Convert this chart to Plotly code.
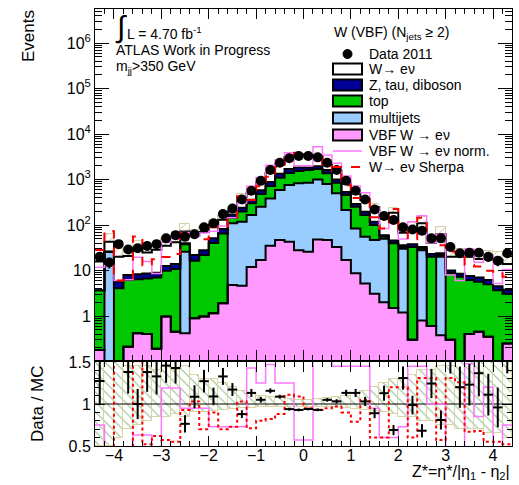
import numpy as np
import plotly.graph_objects as go

# ---------------- data ----------------
bin_centers = [-4.3, -4.1, -3.9, -3.7, -3.5, -3.3, -3.1, -2.9, -2.7, -2.5, -2.3,
               -2.1, -1.9, -1.7, -1.5, -1.3, -1.1, -0.9, -0.7, -0.5, -0.3, -0.1,
               0.1, 0.3, 0.5, 0.7, 0.9, 1.1, 1.3, 1.5, 1.7, 1.9, 2.1,
               2.3, 2.5, 2.7, 2.9, 3.1, 3.3, 3.5, 3.7, 3.9, 4.1, 4.3]
bin_width = 0.2

data = [20, 15, 38, 29, 31, 34.5, 38, 51, 60, 55, 63, 89, 109, 174, 232, 366, 566, 937, 1620, 2350, 2930, 3300,
        3300, 3080, 2350, 1620, 940, 566, 366, 220, 158, 129, 89, 80, 75, 51, 51, 33, 24, 24.6, 24.6, 20, 16.5, 24]

# total of the MC stack (top of the white W -> e nu histogram)
mc_total = [15.7, 43, 20, 21, 31, 25, 28.6, 35, 42, 72, 58, 70, 100, 131, 198, 416, 500, 892, 1400, 2160, 3120, 3550,
            3510, 3310, 2240, 1570, 830, 500, 355, 247, 140, 187, 68, 81, 110, 41, 63, 20, 20, 20, 18, 18, 17.2, 14]

vbf = [0.18, 0, 0, 0.21, 0.42, 0.40, 0.19, 0.97, 0.45, 0.42, 0.89, 0.97, 1.15, 1.9, 4.8, 4.6, 12, 17, 35, 47, 43, 28,
       26, 48, 47, 33, 17, 8.7, 5.2, 3.1, 2.0, 1.5, 1.2, 0.3, 0.8, 0.6, 0.38, 0.3, 0, 0.4, 0.45, 0.35, 0, 0.25]
multijets = [0, 26, 0, 0, 0, 0, 0, 0, 0, 25.6, 0, 0, 0, 0, 105, 113, 154, 235, 350, 543, 712, 797,
             824, 952, 753, 467, 197, 75, 50, 44, 48, 0, 28.8, 0, 27.2, 0, 19.6, 0, 0, 0, 0, 0, 0, 0]
top = [3.5, 0, 4.1, 6.0, 6.0, 6.3, 6.8, 8.9, 10.3, 12, 15.6, 21, 38.9, 63, 35, 82, 134, 228, 335, 510, 645, 725,
       770, 700, 570, 350, 243, 168, 111, 53, 5, 38.5, 3, 32.7, 2, 19.4, 2, 8.5, 7.3, 5.8, 5.25, 4.65, 3.7, 2.85]
z_tau_diboson = [0, 0, 1.6, 1.8, 1.9, 1.9, 2.0, 2.7, 3.2, 2, 5.5, 6, 11, 17, 25, 40, 60, 100, 160, 250, 300, 300,
                 230, 250, 250, 150, 78, 38, 30, 18, 5, 6, 3, 5, 3, 3, 2, 1.2, 1.2, 1.4, 1.3, 1.2, 0.8, 0.7]

# relative MC uncertainty (upper / lower edge of the hatched band)
mc_err_up = [0.5, 0.5, 0.5, 0.45, 0.45, 0.45, 0.4, 0.45, 0.4, 0.45, 0.35, 0.3, 0.3, 0.25, 0.2, 0.15, 0.12, 0.1, 0.08, 0.07, 0.06, 0.05,
             0.05, 0.06, 0.07, 0.08, 0.1, 0.12, 0.15, 0.2, 0.25, 0.3, 0.3, 0.35, 0.4, 0.4, 0.45, 0.45, 0.5, 0.5, 0.5, 0.5, 0.5, 0.5]
mc_err_down = [0.5, 0.5, 0.4, 0.3, 0.25, 0.2, 0.15, 0.15, 0.12, 0.15, 0.1, 0.1, 0.08, 0.07, 0.06, 0.05, 0.05, 0.04, 0.04, 0.03, 0.03, 0.03,
               0.03, 0.03, 0.03, 0.04, 0.05, 0.06, 0.07, 0.08, 0.1, 0.12, 0.15, 0.15, 0.2, 0.2, 0.25, 0.25, 0.3, 0.3, 0.3, 0.35, 0.35, 0.4]

# ratio of the overlaid curves to the MC stack
vbf_norm_ratio = [0.75, 0.3, 0.3, 0.3, 0.63, 0.63, 0.3, 1.19, 1.19, 0.95, 0.95, 0.95, 0.73, 0.73, 0.73, 0.73, 1.43, 1.25, 1.47, 1.25, 1.25, 0.57,
                  0.57, 1.6, 1.55, 1.45, 1.45, 1.45, 1.45, 0.95, 0.6, 0.6, 0.73, 1.45, 1.45, 1.0, 1.0, 0.4, 0.3, 1.48, 0.85, 1.2, 0.3, 0.75]
sherpa_ratio = [1.8, 1.7, 0.3, 0.3, 1.8, 0.52, 0.62, 0.57, 0.55, 0.93, 1.03, 0.7, 0.9, 0.7, 0.73, 1.03, 0.71, 0.8, 0.82, 0.88, 1.11, 1.09,
                0.95, 0.93, 0.95, 0.97, 0.9, 0.79, 1.05, 0.6, 0.6, 1.2, 1.2, 0.6, 1.31, 1.31, 0.57, 1.31, 1.26, 0.67, 0.68, 0.55, 0.55, 0.52]

# ---------------- derived ----------------
xc = np.array(bin_centers)
edges = np.concatenate([xc - bin_width / 2, [xc[-1] + bin_width / 2]])
d = np.array(data, float)
tot = np.array(mc_total, float)
c_vbf = np.array(vbf, float)
c_mj = c_vbf + np.array(multijets, float)
c_top = c_mj + np.array(top, float)
c_z = c_top + np.array(z_tau_diboson, float)
eu = np.array(mc_err_up, float)
ed = np.array(mc_err_down, float)
LOWV = 1e-3


def pos(v):
    v = np.array(v, float)
    return np.where(v > 0, v, LOWV)


def step(v):
    v = list(v)
    return list(edges), v + [v[-1]]


FONT = "Liberation Sans, Arial, Helvetica, sans-serif"
fig = go.Figure()

# hatched MC uncertainty (top panel), drawn under the stack
fig.add_trace(go.Bar(x=xc, y=tot * (eu + ed), base=tot * (1 - ed), width=bin_width,
                     marker=dict(color="#bdb98c", line=dict(color="#d6d2a8", width=1),
                                 pattern=dict(shape="/", size=6, solidity=0.15, fillmode="replace")),
                     xaxis="x", yaxis="y", showlegend=False, hoverinfo="skip"))

stack = [(tot, "#ffffff"), (c_z, "#000099"), (c_top, "#00c800"), (c_mj, "#99ccff"), (c_vbf, "#ff99ff")]
for vals, col in stack:
    fig.add_trace(go.Bar(x=xc, y=pos(vals), width=bin_width, marker=dict(color=col, line=dict(width=0)),
                         xaxis="x", yaxis="y", showlegend=False))
for vals, col in stack:
    sx, sy = step(pos(vals))
    fig.add_trace(go.Scatter(x=sx, y=sy, mode="lines", line=dict(color="black", width=2, shape="hv"),
                             xaxis="x", yaxis="y", showlegend=False, hoverinfo="skip"))

# overlays in the top panel
sx, sy = step(pos(np.array(vbf_norm_ratio) * tot))
fig.add_trace(go.Scatter(x=sx, y=sy, mode="lines", line=dict(color="#ff77ff", width=1.5, shape="hv"),
                         xaxis="x", yaxis="y", showlegend=False))
sx, sy = step(pos(np.array(sherpa_ratio) * tot))
fig.add_trace(go.Scatter(x=sx, y=sy, mode="lines", line=dict(color="#ff0000", width=2, shape="hv", dash="dash"),
                         xaxis="x", yaxis="y", showlegend=False))
fig.add_trace(go.Scatter(x=xc, y=d, mode="markers", marker=dict(color="black", size=10),
                         error_y=dict(type="data", array=np.sqrt(d), color="black", thickness=2, width=0),
                         xaxis="x", yaxis="y", showlegend=False))

# ---------------- ratio panel ----------------
fig.add_trace(go.Bar(x=xc, y=eu + ed, base=1 - ed, width=bin_width,
                     marker=dict(color="#8fbf8a", line=dict(color="#d8d4a4", width=1),
                                 pattern=dict(shape="\\", size=7, solidity=0.15, fillmode="replace")),
                     xaxis="x2", yaxis="y2", showlegend=False, hoverinfo="skip"))
fig.add_trace(go.Scatter(x=[-4.4, 4.4], y=[1, 1], mode="lines", line=dict(color="black", width=1),
                         xaxis="x2", yaxis="y2", showlegend=False))
sx, sy = step(vbf_norm_ratio)
fig.add_trace(go.Scatter(x=sx, y=sy, mode="lines", line=dict(color="#ff77ff", width=1.5, shape="hv"),
                         xaxis="x2", yaxis="y2", showlegend=False))
sx, sy = step(sherpa_ratio)
fig.add_trace(go.Scatter(x=sx, y=sy, mode="lines", line=dict(color="#ff0000", width=2, shape="hv", dash="dot"),
                         xaxis="x2", yaxis="y2", showlegend=False))
fig.add_trace(go.Scatter(x=xc, y=d / tot, mode="markers", marker=dict(color="black", size=1),
                         error_x=dict(type="constant", value=bin_width / 2, color="black", thickness=2, width=0),
                         error_y=dict(type="data", array=np.sqrt(d) / tot, color="black", thickness=2, width=0),
                         xaxis="x2", yaxis="y2", showlegend=False))

# ---------------- layout ----------------
L, R, T, B = 95, 512, 9, 446


def px(x):
    return (x - L) / (R - L)


def py(y):
    return (B - y) / (B - T)


axis_common = dict(showline=True, linecolor="black", linewidth=1, mirror="ticks", ticks="inside",
                   tickcolor="black", showgrid=False, zeroline=False,
                   tickfont=dict(family=FONT, size=16, color="black"))

fig.update_layout(
    width=519, height=485, margin=dict(l=L, r=519 - R, t=T, b=485 - B, autoexpand=False),
    paper_bgcolor="white", plot_bgcolor="white", barmode="overlay", bargap=0,
    xaxis=dict(axis_common, domain=[0, 1], range=[-4.4, 4.4], anchor="y", dtick=1, tick0=0, ticklen=10,
               showticklabels=False, minor=dict(dtick=0.2, ticks="inside", ticklen=5, tickcolor="black")),
    yaxis=dict(axis_common, domain=[py(360), 1], type="log", range=[-0.967, 6.75], anchor="x",
               tickvals=[1, 10, 100, 1e3, 1e4, 1e5, 1e6],
               ticktext=["1", "10", "10<sup>2</sup>", "10<sup>3</sup>", "10<sup>4</sup>", "10<sup>5</sup>", "10<sup>6</sup>"],
               ticklen=14, minor=dict(dtick="D1", ticks="inside", ticklen=7, tickcolor="black")),
    xaxis2=dict(axis_common, domain=[0, 1], range=[-4.4, 4.4], anchor="y2", dtick=1, tick0=0, ticklen=10,
                ticklabelstandoff=-5, minor=dict(dtick=0.2, ticks="inside", ticklen=5, tickcolor="black")),
    yaxis2=dict(axis_common, domain=[0, py(362)], range=[0.5, 1.5], anchor="x2", tickvals=[0.5, 1, 1.5],
                ticktext=["0.5", "1", "1.5"], ticklen=10,
                minor=dict(dtick=0.1, ticks="inside", ticklen=5, tickcolor="black")),
)

ann = []
shapes = []


def text(x, y, s, size=14, xanchor="left", **kw):
    ann.append(dict(x=px(x), y=py(y), xref="paper", yref="paper", text=s, showarrow=False,
                    xanchor=xanchor, yanchor="middle", font=dict(family=FONT, size=size, color="black"), **kw))


text(28, 36, "Events", size=17, xanchor="center", textangle=-90)
text(37, 404, "Data / MC", size=17, xanchor="center", textangle=-90)
text(512, 472, "Z*=η*/|η<sub>1</sub> - η<sub>2</sub>|", size=16, xanchor="right")

text(113, 27, "∫", size=30)
text(125, 33, "L = 4.70 fb<sup>-1</sup>", size=14)
text(114, 50, "ATLAS Work in Progress", size=14)
text(114, 67, "m<sub>jj</sub>>350 GeV", size=14)

text(332, 33, "W (VBF) (N<sub>jets</sub> ≥ 2)", size=14)
legend_rows = [("Data 2011", 54, None), ("W→ eν", 69, "#ffffff"), ("Z, tau, diboson", 85, "#000099"),
               ("top", 101, "#00c800"), ("multijets", 118, "#99ccff"), ("VBF W → eν", 135, "#ff99ff"),
               ("VBF W → eν norm.", 151, "pink"), ("W→ eν Sherpa", 167, "sherpa")]
for label, y, col in legend_rows:
    text(367, y, label, size=14)
    if col is None:
        shapes.append(dict(type="circle", xref="paper", yref="paper", x0=px(343), x1=px(352), y0=py(58.5), y1=py(49.5),
                           fillcolor="black", line=dict(color="black", width=1)))
    elif col == "pink":
        shapes.append(dict(type="line", xref="paper", yref="paper", x0=px(333), x1=px(362), y0=py(y), y1=py(y),
                           line=dict(color="#ff77ff", width=1.5)))
    elif col == "sherpa":
        shapes.append(dict(type="line", xref="paper", yref="paper", x0=px(333), x1=px(362), y0=py(y), y1=py(y),
                           line=dict(color="#ff0000", width=2, dash="dash")))
    else:
        shapes.append(dict(type="rect", xref="paper", yref="paper", x0=px(333), x1=px(362), y0=py(y + 5.5), y1=py(y - 5.5),
                           fillcolor=col, line=dict(color="black", width=2)))

fig.update_layout(annotations=ann, shapes=shapes)
fig.write_html("out.html", config={"displayModeBar": False},
               post_script="document.body.style.margin='0';document.body.style.overflow='hidden';")
